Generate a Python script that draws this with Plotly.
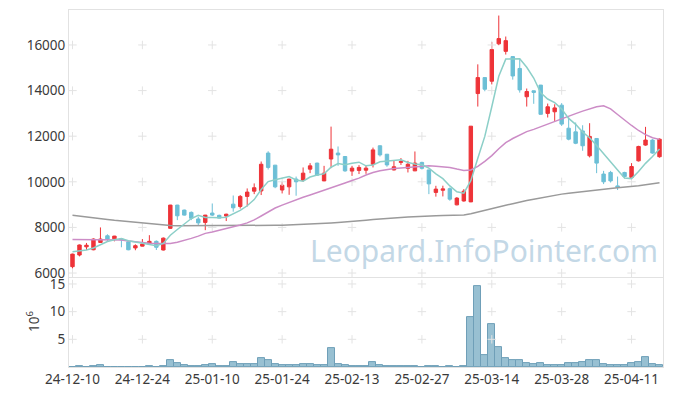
import plotly.graph_objects as go

dates = [
    "24-12-10", "24-12-11", "24-12-12", "24-12-13", "24-12-16", "24-12-17", "24-12-18", "24-12-19", "24-12-20", "24-12-23",
    "24-12-24", "24-12-26", "24-12-27", "24-12-30", "25-01-02", "25-01-03", "25-01-06", "25-01-07", "25-01-08", "25-01-09",
    "25-01-10", "25-01-13", "25-01-14", "25-01-15", "25-01-16", "25-01-17", "25-01-20", "25-01-21", "25-01-22", "25-01-23",
    "25-01-24", "25-01-31", "25-02-03", "25-02-04", "25-02-05", "25-02-06", "25-02-07", "25-02-10", "25-02-11", "25-02-12",
    "25-02-13", "25-02-14", "25-02-17", "25-02-18", "25-02-19", "25-02-20", "25-02-21", "25-02-24", "25-02-25", "25-02-26",
    "25-02-27", "25-02-28", "25-03-04", "25-03-05", "25-03-06", "25-03-07", "25-03-10", "25-03-11", "25-03-12", "25-03-13",
    "25-03-14", "25-03-17", "25-03-18", "25-03-19", "25-03-20", "25-03-21", "25-03-24", "25-03-25", "25-03-26", "25-03-27",
    "25-03-28", "25-03-31", "25-04-01", "25-04-02", "25-04-03", "25-04-04", "25-04-07", "25-04-08", "25-04-09", "25-04-10",
    "25-04-11", "25-04-14", "25-04-15", "25-04-16", "25-04-17",
]

opens = [
    6280, 6790, 7150, 7020, 7340, 7635, 7500, 7500, 7370, 7100,
    7180, 7300, 7390, 7010, 7960, 8980, 8760, 8660, 8370, 8220,
    8630, 8530, 8500, 9020, 8920, 9360, 9590, 9600, 11260, 10730,
    9640, 9780, 10120, 10070, 10555, 10820, 10040, 11000, 11260, 11110,
    10470, 10500, 10510, 10770, 11580, 11210, 10520, 10850, 10590, 10480,
    10850, 10520, 9535, 9630, 9700, 8990, 9160, 9120, 13870, 14570,
    14410, 16050, 15720, 15490, 14970, 13730, 13990, 14240, 13000, 13070,
    13360, 12350, 12190, 12230, 11140, 11900, 10340, 10410, 9820, 10410,
    10190, 10920, 11610, 11830, 11100,
]
highs = [
    6850, 7250, 7320, 7520, 8000, 7700, 7630, 7510, 7380, 7260,
    7490, 7660, 7430, 7560, 8990, 8990, 8780, 8700, 8470, 8550,
    9050, 8560, 8600, 9400, 9420, 9710, 9930, 10890, 11340, 10740,
    10000, 10130, 10230, 10630, 10820, 10840, 10700, 12420, 11550, 11120,
    10700, 10730, 10700, 11500, 11600, 11220, 10920, 11040, 10920, 11330,
    10880, 10530, 9825, 9830, 9750, 9330, 9680, 12440, 15150, 14580,
    16130, 17290, 16370, 15500, 15400, 14090, 14000, 14250, 13430, 13400,
    13450, 12820, 12600, 12480, 12570, 11910, 10480, 10480, 10230, 10440,
    10820, 11580, 12410, 11870, 11900,
]
lows = [
    6200, 6730, 7010, 7000, 7330, 7390, 7390, 7130, 7000, 7000,
    7170, 7290, 7010, 6990, 7940, 8320, 8520, 8320, 8100, 7880,
    8500, 8400, 8280, 8690, 8830, 8920, 9460, 9420, 10540, 9720,
    9490, 9430, 9390, 10000, 10380, 10270, 10030, 10600, 10700, 10440,
    10260, 10340, 10350, 10630, 11110, 10660, 10500, 10740, 10410, 10470,
    10540, 9460, 9350, 9360, 9170, 8970, 9130, 9110, 13300, 13970,
    14270, 15990, 15580, 14480, 13910, 13300, 13420, 12950, 12820, 12670,
    12450, 11820, 11650, 11360, 11070, 10380, 9900, 9970, 9640, 10150,
    10150, 10890, 11580, 11230, 11060,
]
closes = [
    6830, 7230, 7220, 7490, 7490, 7490, 7620, 7460, 7020, 7200,
    7270, 7390, 7130, 7530, 8980, 8510, 8540, 8400, 8200, 8540,
    8540, 8410, 8580, 8860, 9360, 9550, 9740, 10770, 10630, 9780,
    9850, 10120, 10000, 10380, 10700, 10290, 10380, 11430, 11180, 10480,
    10600, 10630, 10600, 11400, 11180, 10740, 10660, 10890, 10770, 10820,
    10590, 9910, 9680, 9690, 9240, 9285, 9590, 12440, 14570, 14060,
    15800, 16280, 16190, 14640, 14030, 13960, 13920, 12960, 13290, 13240,
    12530, 11870, 11690, 11580, 11990, 10820, 10000, 10040, 9750, 10230,
    10670, 11550, 11830, 11260, 11870,
]

ma5 = [
    6930, 6970, 7010, 7100, 7250, 7380, 7460, 7510, 7420, 7360,
    7310, 7270, 7200, 7300, 7660, 7910, 8140, 8390, 8530, 8440,
    8440, 8420, 8450, 8590, 8750, 8950, 9220, 9660, 10010, 10090,
    10150, 10230, 10080, 10030, 10210, 10300, 10350, 10640, 10800, 10750,
    10810, 10860, 10700, 10740, 10880, 10910, 10920, 10970, 10850, 10780,
    10750, 10600, 10350, 10140, 9820, 9560, 9500, 10050, 11030, 11990,
    13290, 14630, 15380, 15390, 15390, 15020, 14550, 13900, 13630, 13470,
    13190, 12780, 12520, 12180, 11930, 11590, 11220, 10890, 10520, 10170,
    10140, 10450, 10810, 11110, 11440,
]
ma20 = [
    7470, 7470, 7470, 7470, 7470, 7470, 7460, 7450, 7410, 7370,
    7340, 7310, 7290, 7280, 7300, 7350, 7420, 7520, 7620, 7740,
    7800, 7870, 7950, 8030, 8110, 8200, 8330, 8500, 8680, 8850,
    8980, 9100, 9230, 9320, 9420, 9520, 9620, 9720, 9830, 9950,
    10060, 10160, 10300, 10410, 10480, 10540, 10580, 10610, 10640, 10660,
    10690, 10700, 10680, 10660, 10630, 10560, 10500, 10520, 10680, 10900,
    11150, 11450, 11720, 11900, 12050, 12200, 12300, 12420, 12530, 12640,
    12760, 12880, 12990, 13100, 13200, 13290, 13330, 13200, 12950, 12700,
    12470, 12250, 12070, 11930, 11860,
]
ma_long = [
    8530, 8500, 8460, 8420, 8380, 8350, 8310, 8280, 8250, 8210,
    8180, 8150, 8120, 8100, 8080, 8070, 8070, 8070, 8065, 8065,
    8065, 8065, 8070, 8070, 8070, 8075, 8080, 8085, 8090, 8095,
    8100, 8110, 8120, 8135, 8150, 8165, 8180, 8195, 8215, 8235,
    8260, 8290, 8320, 8350, 8380, 8400, 8420, 8440, 8460, 8480,
    8500, 8510, 8515, 8520, 8525, 8530, 8545, 8600, 8680, 8760,
    8830, 8900, 8970, 9040, 9120, 9180, 9240, 9300, 9360, 9410,
    9460, 9500, 9540, 9580, 9620, 9650, 9680, 9710, 9740, 9760,
    9790, 9830, 9870, 9910, 9960,
]
volume_m = [
    0, 0.2, 0, 0.2, 0.4, 0, 0, 0, 0, 0,
    0, 0.15, 0, 0.15, 1.3, 0.75, 0.4, 0.2, 0.2, 0.35,
    0.55, 0.2, 0.2, 0.9, 0.55, 0.55, 0.55, 1.6, 1.3, 0.55,
    0.35, 0.35, 0.35, 0.55, 0.55, 0.35, 0.35, 3.4, 0.55, 0.3,
    0.1, 0.1, 0.1, 0.9, 0.35, 0.1, 0.1, 0.1, 0.1, 0.1,
    0, 0.1, 0.1, 0, 0.1, 0, 0.1, 9.0, 14.6, 2.2,
    7.8, 3.6, 1.6, 1.3, 1.3, 0.7, 0.55, 0.7, 0.35, 0.35,
    0.35, 0.7, 0.7, 0.9, 1.3, 1.3, 0.55, 0.35, 0.35, 0.35,
    0.7, 0.9, 1.8, 0.55, 0.35,
]

price_ticks = [6000, 8000, 10000, 12000, 14000, 16000]
price_labels = ["6000", "8000", "10000", "12000", "14000", "16000"]
volume_ticks = [5, 10, 15]
volume_labels = ["5", "10", "15"]
date_ticks = dates[::10]

UP = "#ee3338"
DOWN = "#6cbfd6"
FONT = "Noto Sans"

fig = go.Figure()

# grid "+" marks at tick intersections
gx, gy = [], []
for d in date_ticks:
    for p in price_ticks:
        gx.append(d)
        gy.append(p)
fig.add_trace(go.Scatter(x=gx, y=gy, mode="markers", xaxis="x", yaxis="y",
                         marker=dict(symbol="cross-thin", size=6, line=dict(width=1, color="#e3e3e3")),
                         hoverinfo="skip"))
vx, vy = [], []
for d in date_ticks:
    for v in volume_ticks:
        vx.append(d)
        vy.append(v)
fig.add_trace(go.Scatter(x=vx, y=vy, mode="markers", xaxis="x2", yaxis="y2",
                         marker=dict(symbol="cross-thin", size=6, line=dict(width=1, color="#e3e3e3")),
                         hoverinfo="skip"))

fig.add_trace(go.Scatter(x=dates, y=ma_long, mode="lines", line=dict(color="#9a9a9a", width=1.5),
                         xaxis="x", yaxis="y"))
fig.add_trace(go.Scatter(x=dates, y=ma20, mode="lines", line=dict(color="#cc8cc6", width=1.5),
                         xaxis="x", yaxis="y"))
fig.add_trace(go.Scatter(x=dates, y=ma5, mode="lines", line=dict(color="#8ccfc8", width=1.5),
                         xaxis="x", yaxis="y"))

fig.add_trace(go.Candlestick(
    x=dates, open=opens, high=highs, low=lows, close=closes,
    increasing=dict(line=dict(color=UP, width=1), fillcolor=UP),
    decreasing=dict(line=dict(color=DOWN, width=1), fillcolor=DOWN),
    whiskerwidth=0, xaxis="x", yaxis="y"))

fig.add_trace(go.Bar(x=dates, y=volume_m, xaxis="x2", yaxis="y2",
                     marker=dict(color="#98c0d2", line=dict(color="#6f9fb8", width=1))))

axis_line = "#e2e2e2"
tickfont = dict(family=FONT, size=13.5, color="#3a3a3a")

# the page body adds an 8px offset, so the figure is sized/margined to compensate
fig.update_layout(
    width=665, height=388,
    margin=dict(l=61, r=10, t=2, b=29, autoexpand=False),
    paper_bgcolor="white", plot_bgcolor="white",
    showlegend=False, bargap=0,
    xaxis=dict(type="category", categoryorder="array", categoryarray=dates,
               domain=[0, 1], anchor="y", range=[-0.5, len(dates) - 0.5],
               showticklabels=False, showgrid=False, zeroline=False, automargin=False,
               showline=True, mirror=True, linecolor=axis_line,
               rangeslider=dict(visible=False), ticks=""),
    yaxis=dict(domain=[0.252, 1], range=[5825, 17533], tickvals=price_ticks, ticktext=price_labels,
               showgrid=False, zeroline=False, showline=True, mirror=True, automargin=False,
               linecolor=axis_line, tickfont=tickfont, ticks=""),
    xaxis2=dict(type="category", categoryorder="array", categoryarray=dates,
                domain=[0, 1], anchor="y2", matches="x", range=[-0.5, len(dates) - 0.5],
                tickvals=date_ticks, ticktext=date_ticks, automargin=False,
                showgrid=False, zeroline=False, showline=True, mirror=True,
                linecolor=axis_line, tickfont=tickfont, ticks=""),
    yaxis2=dict(domain=[0, 0.249], range=[0, 16.06], tickvals=volume_ticks, ticktext=volume_labels,
                showgrid=False, zeroline=False, showline=True, mirror=True, automargin=False,
                linecolor=axis_line, tickfont=tickfont, ticks=""),
    annotations=[
        dict(text="Leopard.InfoPointer.com", xref="paper", yref="paper",
             x=0.699, y=0.325, xanchor="center", yanchor="middle", showarrow=False,
             font=dict(family=FONT, size=30, color="rgba(175,203,222,0.75)")),
        dict(text="10<sup>6</sup>", xref="paper", yref="paper",
             x=-0.0606, y=0.126, xanchor="center", yanchor="middle", showarrow=False, textangle=-90,
             font=dict(family=FONT, size=13.5, color="#3a3a3a")),
    ],
)

fig.write_html("out.html")
